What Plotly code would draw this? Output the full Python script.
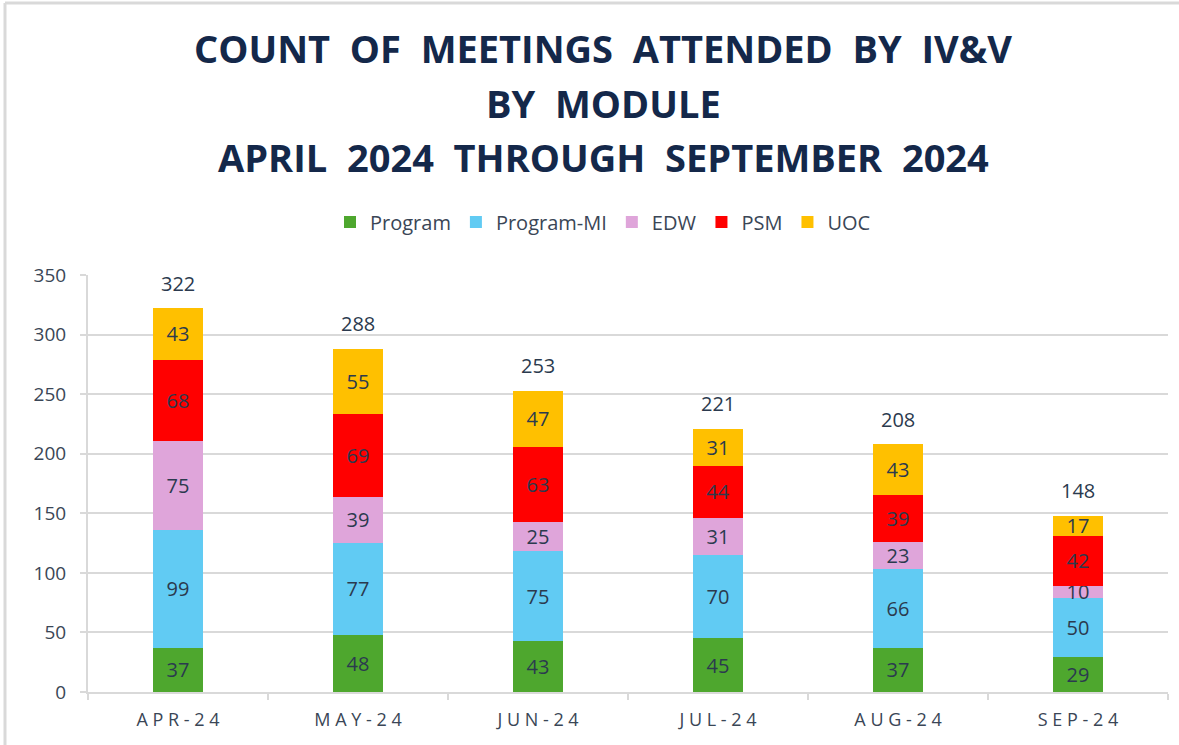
import plotly.graph_objects as go

months = ["APR-24", "MAY-24", "JUN-24", "JUL-24", "AUG-24", "SEP-24"]
month_ticks = ["A P R - 2 4", "M A Y - 2 4", "J U N - 2 4", "J U L - 2 4", "A U G - 2 4", "S E P - 2 4"]
program = [37, 48, 43, 45, 37, 29]
program_mi = [99, 77, 75, 70, 66, 50]
edw = [75, 39, 25, 31, 23, 10]
psm = [68, 69, 63, 44, 39, 42]
uoc = [43, 55, 47, 31, 43, 17]
totals = [322, 288, 253, 221, 208, 148]

series = [
    ("Program", program, "#4EA72E"),
    ("Program-MI", program_mi, "#61CBF3"),
    ("EDW", edw, "#DFA5DA"),
    ("PSM", psm, "#FF0000"),
    ("UOC", uoc, "#FFC000"),
]

TXT = "#2B3A4E"
LBL = "Open Sans"

fig = go.Figure()
for name, vals, col in series:
    fig.add_trace(go.Bar(
        name=name, x=months, y=vals, marker=dict(color=col, line=dict(width=0)),
        text=[str(v) for v in vals], textposition="inside", insidetextanchor="middle",
        textfont=dict(family=LBL, size=20, color=TXT), constraintext="none",
        textangle=0,
    ))

annotations = []
for m, t in zip(months, totals):
    annotations.append(dict(x=m, y=t, xref="x", yref="y", text=str(t), showarrow=False,
                            yanchor="middle", yshift=25,
                            font=dict(family=LBL, size=20, color=TXT)))

title_lines = ["COUNT OF MEETINGS ATTENDED BY IV&V", "BY MODULE", "APRIL 2024 THROUGH SEPTEMBER 2024"]
title_y = [48, 103, 157]
L, R, T, B = 88, 11, 275, 53
H = 745 - T - B
W = 1179 - L - R
for line, py in zip(title_lines, title_y):
    annotations.append(dict(
        x=(603 - L) / W, y=(745 - B - py) / H, xref="paper", yref="paper",
        text="<b>" + line.replace(" ", "\u00a0\u00a0") + "</b>", showarrow=False,
        xanchor="center", yanchor="middle",
        font=dict(family="Open Sans", size=38, color="#14284A"),
    ))

shapes = [
    dict(type="line", xref="paper", yref="paper", x0=(5 - L) / W, x1=(1179 - L) / W + 0.01,
         y0=(745 - B - 3) / H, y1=(745 - B - 3) / H, line=dict(color="#D9D9D9", width=3)),
    dict(type="line", xref="paper", yref="paper", x0=(5 - L) / W, x1=(5 - L) / W,
         y0=(745 - B - 3) / H, y1=-0.2, line=dict(color="#D9D9D9", width=3)),
]

fig.update_layout(
    width=1179, height=745,
    margin=dict(l=L, r=R, t=T, b=B, pad=0),
    barmode="stack", bargap=0.72,
    paper_bgcolor="white", plot_bgcolor="white",
    showlegend=True,
    legend=dict(orientation="h", x=(603 - L) / W, xanchor="center", y=(745 - B - 222) / H,
                yanchor="middle", font=dict(family=LBL, size=20, color="#3A4656"),
                itemwidth=30, traceorder="normal"),
    annotations=annotations,
    shapes=shapes,
    xaxis=dict(tickmode="array", tickvals=months, ticktext=month_ticks,
               tickfont=dict(family=LBL, size=18, color="#3A4656"),
               showline=True, linecolor="#D9D9D9", linewidth=2,
               ticks="outside", tickson="boundaries", ticklen=6, tickcolor="#D9D9D9", tickwidth=2,
               showgrid=False, ticklabelstandoff=10),
    yaxis=dict(range=[0, 350], dtick=50, tickfont=dict(family=LBL, size=19, color="#3A4656"),
               showgrid=True, gridcolor="#D9D9D9", gridwidth=2,
               showline=True, linecolor="#D9D9D9", linewidth=2,
               ticks="outside", ticklen=6, tickcolor="#D9D9D9", tickwidth=2,
               zeroline=False, ticklabelstandoff=10),
)

fig.write_html("out.html")
